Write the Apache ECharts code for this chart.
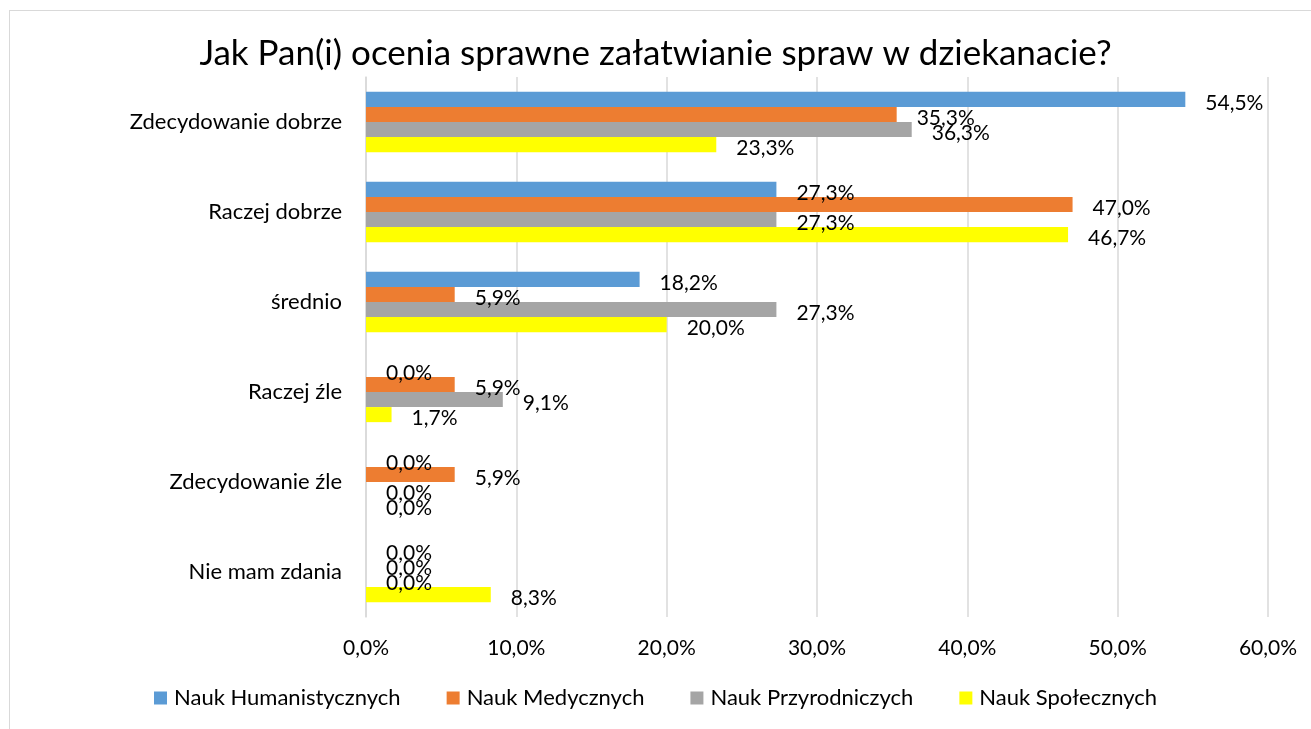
<!DOCTYPE html>
<html>
<head>
<meta charset="utf-8">
<script src="https://cdn.jsdelivr.net/npm/echarts@6/dist/echarts.min.js"></script>
<style>
html,body{margin:0;padding:0;background:#fff;}
#frame{position:absolute;left:9px;top:10px;width:1320px;height:740px;border:1px solid #d9d9d9;box-sizing:border-box;}
#chart{position:absolute;left:0;top:0;width:1311px;height:729px;}
</style>
</head>
<body>
<div id="frame"></div>
<div id="chart"></div>
<script>
const title = 'Jak Pan(i) ocenia sprawne załatwianie spraw w dziekanacie?';
const categories = ['Zdecydowanie dobrze','Raczej dobrze','średnio','Raczej źle','Zdecydowanie źle','Nie mam zdania'];
const seriesNames = ['Nauk Humanistycznych','Nauk Medycznych','Nauk Przyrodniczych','Nauk Społecznych'];
const humanistyczne = [54.5, 27.3, 18.2, 0.0, 0.0, 0.0];
const medyczne = [35.3, 47.0, 5.9, 5.9, 5.9, 0.0];
const przyrodnicze = [36.3, 27.3, 27.3, 9.1, 0.0, 0.0];
const spoleczne = [23.3, 46.7, 20.0, 1.7, 0.0, 8.3];
const xTicks = [0, 10, 20, 30, 40, 50, 60];
const colors = ['#5B9BD5','#ED7D31','#A5A5A5','#FFFF00'];
const allData = [humanistyczne, medyczne, przyrodnicze, spoleczne];

const FONT = 'Lato';
const fmt = v => v.toFixed(1).replace('.', ',') + '%';

const chart = echarts.init(document.getElementById('chart'));
chart.setOption({
  animation: false,
  textStyle: {fontFamily: FONT},
  title: {
    text: title, left: 'center', top: 31,
    textStyle: {fontFamily: FONT, fontSize: 35, fontWeight: 'normal', color: '#000'}
  },
  legend: {
    bottom: 15, left: 'center', itemWidth: 13, itemHeight: 13, itemGap: 46,
    icon: 'rect',
    textStyle: {fontFamily: FONT, fontSize: 22, color: '#000', padding: [0, 0, 0, 2]},
    data: seriesNames
  },
  grid: {left: 366, right: 43, top: 77, bottom: 112},
  xAxis: {
    type: 'value', min: xTicks[0], max: xTicks[xTicks.length-1], interval: 10,
    axisLine: {show: false}, axisTick: {show: false},
    splitLine: {lineStyle: {color: '#d9d9d9', width: 1.5}},
    axisLabel: {formatter: v => fmt(v), fontSize: 21, color: '#000', margin: 21, fontFamily: FONT}
  },
  yAxis: {
    type: 'category', data: categories, inverse: true,
    axisLine: {lineStyle: {color: '#d9d9d9', width: 1.5}}, axisTick: {show: false},
    axisLabel: {fontSize: 22, color: '#000', margin: 24, fontFamily: FONT}
  },
  series: seriesNames.map((n, i) => ({
    name: n, type: 'bar', data: allData[i],
    itemStyle: {color: colors[i]},
    barGap: '0%', barCategoryGap: '33%',
    label: {show: true, position: 'right', distance: 20, formatter: p => fmt(p.value),
      fontSize: 21, color: '#000', fontFamily: FONT, offset: [0, 4]}
  }))
});
</script>
</body>
</html>
